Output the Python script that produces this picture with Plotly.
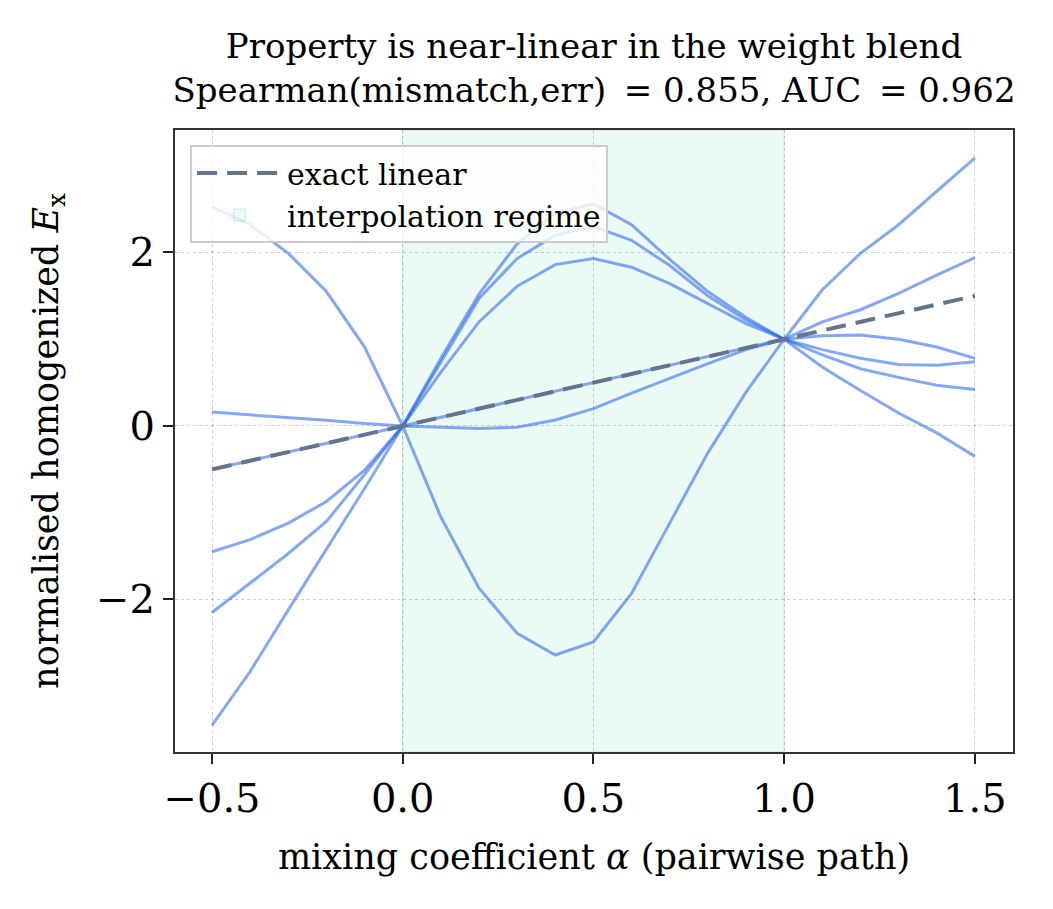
import plotly.graph_objects as go

# ---- data ----
alpha = [-0.5, -0.4, -0.3, -0.2, -0.1, 0.0, 0.1, 0.2, 0.3, 0.4, 0.5,
         0.6, 0.7, 0.8, 0.9, 1.0, 1.1, 1.2, 1.3, 1.4, 1.5]

curve_dip = [2.53, 2.32, 1.99, 1.55, 0.91, 0.0, -1.05, -1.87, -2.39, -2.64, -2.49,
             -1.93, -1.12, -0.31, 0.39, 1.0, 1.57, 1.99, 2.32, 2.70, 3.09]
curve_flat = [0.16, 0.13, 0.10, 0.065, 0.03, 0.0, -0.015, -0.03, -0.015, 0.07, 0.20,
              0.38, 0.55, 0.72, 0.88, 1.0, 1.04, 1.05, 1.00, 0.91, 0.78]
curve_lin = [-0.5, -0.4, -0.3, -0.2, -0.1, 0.0, 0.1, 0.2, 0.3, 0.4, 0.5,
             0.6, 0.7, 0.8, 0.9, 1.0, 1.20, 1.34, 1.53, 1.74, 1.94]
curve_peak_hi = [-3.45, -2.83, -2.12, -1.42, -0.72, 0.0, 0.78, 1.52, 2.10, 2.45, 2.56,
                 2.32, 1.92, 1.55, 1.25, 1.0, 0.68, 0.41, 0.15, -0.08, -0.35]
curve_peak_mid = [-2.15, -1.81, -1.47, -1.10, -0.56, 0.0, 0.74, 1.47, 1.93, 2.20, 2.30,
                  2.14, 1.85, 1.50, 1.22, 1.0, 0.82, 0.66, 0.56, 0.47, 0.42]
curve_peak_lo = [-1.45, -1.31, -1.12, -0.87, -0.51, 0.0, 0.62, 1.20, 1.61, 1.86, 1.93,
                 1.83, 1.64, 1.41, 1.18, 1.0, 0.88, 0.78, 0.71, 0.70, 0.74]
curves = [curve_dip, curve_flat, curve_lin, curve_peak_hi, curve_peak_mid, curve_peak_lo]

exact_linear = alpha[:]  # y = alpha
regime = [0.0, 1.0]

x_ticks = [-0.5, 0.0, 0.5, 1.0, 1.5]
x_ticklabels = ["\u22120.5", "0.0", "0.5", "1.0", "1.5"]
y_ticks = [-2, 0, 2]
y_ticklabels = ["\u22122", "0", "2"]

title_lines = ["Property is near-linear in the weight blend",
               "Spearman(mismatch,err) \u2009= 0.855, AUC \u2009= 0.962"]

FONT = "DejaVu Serif"
BLUE = "rgba(37,99,235,0.56)"
MINT = "rgba(16,185,129,0.08)"

fig = go.Figure()

for c in curves:
    fig.add_trace(go.Scatter(x=alpha, y=c, mode="lines",
                             line=dict(color=BLUE, width=3),
                             showlegend=False, hoverinfo="skip"))

fig.add_trace(go.Scatter(x=alpha, y=exact_linear, mode="lines", name="exact linear",
                         line=dict(color="#64748b", width=4, dash="20px,10px"),
                         legendrank=1))

fig.add_vrect(x0=regime[0], x1=regime[1], fillcolor=MINT,
              line=dict(color="rgba(16,185,129,0.15)", width=1.5), layer="below",
              showlegend=True, name="interpolation regime", legendrank=2)

fig.update_layout(
    width=1053, height=909,
    margin=dict(l=175, r=40, t=130, b=157),
    paper_bgcolor="white", plot_bgcolor="white",
    font=dict(family=FONT, color="black"),
    title=dict(text="<br>".join(title_lines), x=0.5, xref="paper",
               y=1 - 58 / 909, yref="container", yanchor="top",
               font=dict(size=34, family=FONT)),
    legend=dict(x=0.018, y=0.976, xanchor="left", yanchor="top",
                bgcolor="rgba(255,255,255,0.8)", bordercolor="#cccccc", borderwidth=2,
                font=dict(size=30, family=FONT), tracegroupgap=0, itemwidth=85),
    showlegend=True,
)

axis_common = dict(showline=True, linecolor="#333333", linewidth=2, mirror=True,
                   ticks="outside", ticklen=10, tickwidth=2, tickcolor="#222222",
                   showgrid=True, gridcolor="rgba(0,0,0,0.2)", gridwidth=1.2,
                   griddash="dot", zeroline=False,
                   tickfont=dict(size=40, family=FONT))

fig.update_xaxes(range=[-0.597, 1.6], tickvals=x_ticks, ticktext=x_ticklabels,
                 title=dict(text="mixing coefficient <i>\u03b1</i> (pairwise path)",
                            font=dict(size=35, family=FONT), standoff=24),
                 **axis_common)
fig.update_yaxes(range=[-3.758, 3.412], tickvals=y_ticks, ticktext=y_ticklabels,
                 title=dict(text="normalised homogenized <i>E</i><sub>x</sub>",
                            font=dict(size=35, family=FONT), standoff=27),
                 **axis_common)

fig.write_html("out.html")
